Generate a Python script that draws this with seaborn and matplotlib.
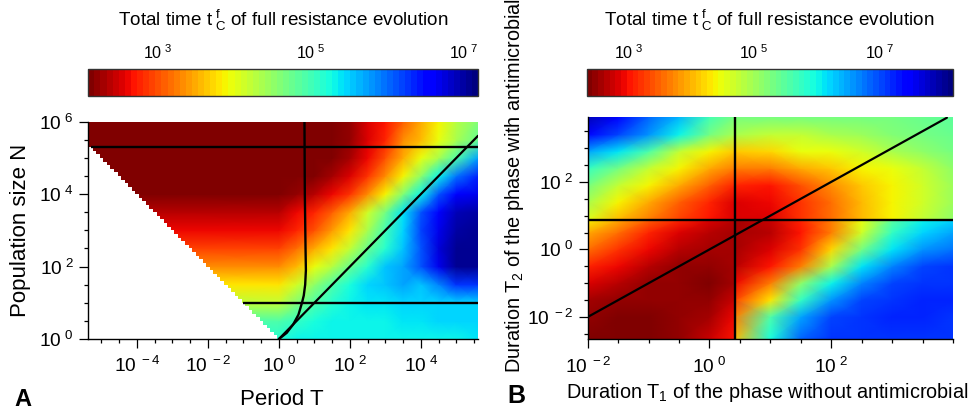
import numpy as np
import matplotlib
matplotlib.use("Agg")
import matplotlib.pyplot as plt
import seaborn as sns
from matplotlib.colors import Normalize
from matplotlib.ticker import FixedLocator, FixedFormatter, NullFormatter

# ---------------------------------------------------------------- data
# Panel A : log10 of total time t_C^f on a (log10 T, log10 N) grid
a_logT = [-5.5, -2.5, 0, 0.5, 1, 1.5, 2, 2.5, 3, 3.5, 4, 4.5, 5, 5.6]
a_logN = [0, 0.5, 1, 1.5, 2, 2.5, 3, 3.5, 4, 4.5, 5, 5.5, 6]
a_log_t = [
    [5.2, 5.2, 5.2, 5.3, 5.35, 5.35, 5.35, 5.35, 5.35, 5.35, 5.35, 5.35, 5.35, 5.4],
    [4.9, 4.9, 4.9, 5.1, 5.25, 5.3, 5.35, 5.35, 5.35, 5.4, 5.4, 5.45, 5.5, 5.5],
    [4.3, 4.3, 4.25, 4.6, 4.95, 5.2, 5.35, 5.4, 5.4, 5.45, 5.45, 5.5, 5.5, 5.5],
    [3.8, 3.8, 3.8, 4.1, 4.5, 4.9, 5.25, 5.5, 5.6, 5.7, 5.6, 5.9, 6.3, 6.3],
    [3.3, 3.3, 3.3, 3.6, 3.95, 4.3, 4.75, 5.2, 5.55, 5.7, 6.1, 6.7, 7.05, 7.1],
    [2.95, 2.95, 2.95, 3.2, 3.5, 3.85, 4.25, 4.75, 5.2, 5.6, 6.1, 6.8, 7.1, 7.1],
    [2.6, 2.6, 2.6, 2.8, 3.05, 3.4, 3.85, 4.4, 5.0, 5.5, 6.2, 6.7, 7.0, 7.1],
    [2.35, 2.35, 2.4, 2.6, 2.8, 3.1, 3.5, 4.1, 4.7, 5.4, 6.1, 6.6, 6.9, 7.0],
    [2.15, 2.15, 2.15, 2.25, 2.35, 2.6, 2.85, 3.3, 3.9, 4.6, 5.3, 6.1, 6.6, 6.7],
    [2.1, 2.1, 2.1, 2.1, 2.15, 2.3, 2.5, 2.85, 3.3, 3.9, 4.5, 5.3, 6.0, 6.4],
    [2.1, 2.1, 2.1, 2.1, 2.1, 2.15, 2.3, 2.65, 3.0, 3.5, 3.95, 4.35, 4.9, 5.7],
    [2.1, 2.1, 2.1, 2.1, 2.1, 2.1, 2.2, 2.5, 2.8, 3.3, 3.6, 4.0, 4.4, 4.8],
    [2.1, 2.1, 2.1, 2.1, 2.1, 2.1, 2.2, 2.5, 2.7, 3.1, 3.5, 3.9, 4.3, 4.6],
]
a_hline_N = [2e5, 10]
a_curve_logT = [0.72, 0.73, 0.75, 0.76, 0.74, 0.70, 0.65, 0.55, 0.40, 0.22, 0.0]
a_curve_logN = [6.0, 4.0, 2.5, 1.9, 1.5, 1.2, 1.0, 0.67, 0.40, 0.17, 0.0]
a_cbar_range = (2.1, 7.2)
a_cbar_ticks = [3, 5, 7]

# Panel B : log10 of total time on a (log10 T1, log10 T2) grid
b_T1_line = 2.6
b_T2_line = 7.6
b_logT1_upper = [-2, -1.5, -1, -0.5, 0, 0.41, 1, 1.5, 2, 2.5, 3, 3.5, 4]
b_logT2_upper = [0.88, 1.4, 1.9, 2.4, 2.9, 3.4, 3.93]
b_upper = [
    [4.6, 4.0, 3.7, 3.3, 3.0, 2.8, 2.8, 3.2, 3.6, 4.0, 4.4, 4.8, 5.1],
    [4.9, 4.4, 3.9, 3.5, 3.1, 2.85, 2.9, 3.2, 3.6, 4.0, 4.4, 4.7, 5.0],
    [5.3, 4.8, 4.35, 3.9, 3.45, 3.1, 3.0, 3.4, 3.75, 4.1, 4.4, 4.7, 5.0],
    [5.8, 5.3, 4.75, 4.35, 3.9, 3.7, 3.7, 3.95, 4.1, 4.35, 4.5, 4.8, 5.1],
    [6.5, 6.1, 5.6, 4.8, 4.4, 4.15, 4.2, 4.45, 4.5, 4.7, 4.9, 5.1, 5.3],
    [7.4, 7.0, 6.6, 6.0, 5.35, 4.9, 4.8, 4.8, 4.9, 5.0, 5.2, 5.3, 5.4],
    [7.9, 7.5, 6.9, 6.4, 5.7, 5.3, 5.3, 5.3, 5.3, 5.3, 5.3, 5.4, 5.5],
]
b_logT2_lower = [-2.66, -2, -1.5, -1, -0.5, 0, 0.5, 0.88]
b_logT1_lower_left = [-2, -1.5, -1, -0.5, 0, 0.41]
b_lower_left = [
    [2.34, 2.34, 2.4, 2.5, 2.75, 3.05],
    [2.45, 2.4, 2.4, 2.45, 2.6, 2.95],
    [2.6, 2.5, 2.45, 2.45, 2.5, 2.75],
    [2.85, 2.7, 2.5, 2.45, 2.4, 2.6],
    [3.1, 2.95, 2.7, 2.5, 2.45, 2.55],
    [3.6, 3.2, 2.95, 2.65, 2.55, 2.55],
    [3.95, 3.6, 3.15, 2.85, 2.65, 2.6],
    [4.35, 3.95, 3.5, 3.15, 2.8, 2.65],
]
b_logT1_lower_right = [0.41, 1, 1.5, 2, 2.5, 3, 3.5, 4]
b_lower_right = [
    [4.0, 5.9, 6.85, 7.1, 7.1, 7.1, 7.1, 7.1],
    [3.7, 5.6, 6.5, 7.0, 7.1, 7.25, 7.2, 7.1],
    [3.3, 4.3, 5.8, 6.6, 7.0, 7.1, 7.25, 7.2],
    [2.95, 3.7, 5.1, 6.0, 6.7, 7.0, 7.1, 7.1],
    [2.7, 3.0, 3.7, 4.9, 6.1, 6.7, 7.0, 7.1],
    [2.6, 2.85, 3.25, 4.2, 5.3, 6.1, 6.6, 6.8],
    [2.55, 2.7, 3.0, 3.7, 4.7, 5.8, 6.2, 6.5],
    [2.55, 2.75, 3.1, 3.7, 4.5, 5.5, 6.0, 6.2],
]
b_cbar_range = (2.34, 8.18)
b_cbar_ticks = [3, 5, 7]

# ---------------------------------------------------------------- style
sns.set_theme(style="ticks")
plt.rcParams["font.family"] = ["Liberation Sans", "DejaVu Sans"]
plt.rcParams["mathtext.fontset"] = "custom"
plt.rcParams["mathtext.rm"] = "Liberation Sans"
plt.rcParams["mathtext.it"] = "Liberation Sans"
plt.rcParams["mathtext.bf"] = "Liberation Sans:bold"
plt.rcParams["mathtext.default"] = "regular"
plt.rcParams["text.color"] = "black"
plt.rcParams["xtick.color"] = "black"
plt.rcParams["ytick.color"] = "black"

cmap = matplotlib.colormaps["jet_r"].resampled(64)

W, H = 973, 413
fig = plt.figure(figsize=(W / 100, H / 100), dpi=100)


def fx(px):
    return px / W


def fy(py):
    return 1 - py / H


def box(l, t, r, b):
    return [fx(l), fy(b), fx(r) - fx(l), fy(t) - fy(b)]


def pow_label(e):
    return r"10$^{\ %d}$" % e


def log_ticks(axis, lo, hi, labelled):
    majors = [e for e in labelled]
    minors = [k / 2 for k in range(int(np.ceil(2 * lo)), int(np.floor(2 * hi)) + 1)
              if (k / 2) not in majors]
    axis.set_major_locator(FixedLocator([10.0 ** e for e in majors]))
    axis.set_major_formatter(FixedFormatter([pow_label(e) for e in majors]))
    axis.set_minor_locator(FixedLocator([10.0 ** m for m in minors]))
    axis.set_minor_formatter(NullFormatter())


def style_axes(ax):
    sns.despine(ax=ax)
    for s in ("left", "bottom"):
        ax.spines[s].set_color("black")
        ax.spines[s].set_linewidth(1.0)
    ax.tick_params(which="major", length=6.5, width=0.9, direction="out", labelsize=13.8)
    ax.tick_params(which="minor", length=3, width=0.9, direction="out")
    ax.tick_params(axis="x", which="major", pad=6)
    ax.tick_params(axis="y", which="major", pad=4)


def mesh(ax, lx, ly, vals, norm):
    X, Y = np.meshgrid(10.0 ** np.array(lx), 10.0 ** np.array(ly))
    return ax.pcolormesh(X, Y, np.array(vals), shading="gouraud", cmap=cmap,
                         norm=norm, zorder=1, antialiased=False, rasterized=True)


def cbar(m, rect, ticks, title_x):
    cax = fig.add_axes(rect)
    cb = fig.colorbar(m, cax=cax, orientation="horizontal")
    cb.set_ticks(ticks)
    cb.set_ticklabels([pow_label(t) for t in ticks])
    cax.xaxis.set_ticks_position("top")
    cax.tick_params(direction="in", length=4, width=0.8, labelsize=11.6, pad=5)
    cb.outline.set_linewidth(1.0)
    cb.outline.set_edgecolor("#333333")
    fig.text(fx(title_x), fy(26), r"Total time t$^{\ f}_{\ C}$ of full resistance evolution",
             ha="center", va="baseline", fontsize=13.6)
    return cb


# ---------------------------------------------------------------- panel A
axA = fig.add_axes(box(88, 121.7, 478, 339))
normA = Normalize(*a_cbar_range)
mA = mesh(axA, a_logT, a_logN, a_log_t, normA)
axA.set_xscale("log")
axA.set_yscale("log")
xminA, xmaxA = 10 ** -5.38, 10 ** 5.61
axA.set_xlim(xminA, xmaxA)
axA.set_ylim(1, 1e6)

# region N*T < 1 is outside the simulated domain
tb = np.logspace(-5.6, 0, 57)
axA.fill_between(tb, 0.5, 1 / tb, step="mid", color="white", lw=0, zorder=2)

for n in a_hline_N:
    axA.hlines(n, max(1 / n, xminA), xmaxA, color="black", lw=1.7, zorder=3)
sns.lineplot(x=[1, xmaxA], y=[1, xmaxA], ax=axA, color="black", lw=1.6,
             sort=False, estimator=None, zorder=3)
sns.lineplot(x=10.0 ** np.array(a_curve_logT), y=10.0 ** np.array(a_curve_logN),
             ax=axA, color="black", lw=1.7, sort=False, estimator=None, zorder=3)

log_ticks(axA.xaxis, -5.38, 5.61, [-4, -2, 0, 2, 4])
log_ticks(axA.yaxis, 0, 6, [0, 2, 4, 6])
style_axes(axA)
axA.set_xlabel("")
axA.set_ylabel("")

cbar(mA, box(88.3, 69.3, 478.3, 95.7), a_cbar_ticks, 283)

fig.text(fx(282), fy(405), "Period T", ha="center", va="baseline", fontsize=16)
fig.text(fx(21), fy(230), "Population size N", rotation=90, ha="center", va="center",
         fontsize=16)
fig.text(fx(23), fy(406.5), "A", ha="center", va="baseline", fontsize=17, weight="bold")

# ---------------------------------------------------------------- panel B
axB = fig.add_axes(box(587.7, 116.7, 953, 339.3))
normB = Normalize(*b_cbar_range)
mB = mesh(axB, b_logT1_upper, b_logT2_upper, b_upper, normB)
mesh(axB, b_logT1_lower_left, b_logT2_lower, b_lower_left, normB)
mesh(axB, b_logT1_lower_right, b_logT2_lower, b_lower_right, normB)
axB.set_xscale("log")
axB.set_yscale("log")
axB.set_xlim(1e-2, 1e4)
yminB, ymaxB = 10 ** -2.66, 10 ** 3.93
axB.set_ylim(yminB, ymaxB)

axB.vlines(b_T1_line, yminB, ymaxB, color="black", lw=1.7, zorder=3)
axB.hlines(b_T2_line, 1e-2, 1e4, color="black", lw=1.7, zorder=3)
sns.lineplot(x=[1e-2, 10 ** 3.9], y=[1e-2, 10 ** 3.9], ax=axB, color="black", lw=1.6,
             sort=False, estimator=None, zorder=3)

log_ticks(axB.xaxis, -2, 4, [-2, 0, 2])
log_ticks(axB.yaxis, -2.66, 3.93, [-2, 0, 2])
style_axes(axB)
axB.set_xlabel("")
axB.set_ylabel("")

cbar(mB, box(586.7, 69.3, 953.3, 95.7), b_cbar_ticks, 769)

fig.text(fx(767), fy(398), r"Duration T$_1$ of the phase without antimicrobial",
         ha="center", va="baseline", fontsize=14.3)
fig.text(fx(514), fy(373), r"Duration T$_2$ of the phase with antimicrobial",
         rotation=90, ha="center", va="bottom", fontsize=14.3)
fig.text(fx(516), fy(403), "B", ha="center", va="baseline", fontsize=18, weight="bold")

fig.savefig("out.png", dpi=100)
